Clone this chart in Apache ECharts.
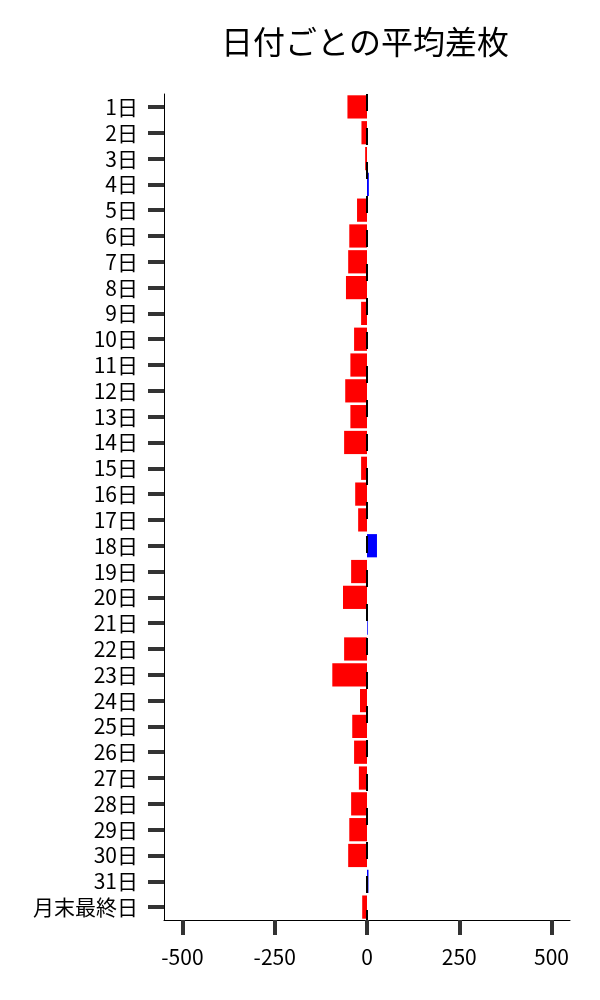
<!DOCTYPE html>
<html lang="ja">
<head>
  <meta charset="UTF-8">
  <title>日付ごとの平均差枚</title>
  <style>
      html, body { margin: 0; padding: 0; background: #fff; }
      #chart { width: 600px; height: 1000px; }
  </style>
</head>
<body>
<div id="chart"></div>
<script src="https://cdn.jsdelivr.net/npm/echarts@6/dist/echarts.min.js"></script>
<script>
  // 日付
  const days = ['1日', '2日', '3日', '4日', '5日', '6日', '7日', '8日', '9日', '10日',
    '11日', '12日', '13日', '14日', '15日', '16日', '17日', '18日', '19日', '20日',
    '21日', '22日', '23日', '24日', '25日', '26日', '27日', '28日', '29日', '30日',
    '31日', '月末最終日'];
  // 平均差枚
  const avgDiff = [-53, -15, -5, 5, -27, -48, -51, -57, -16, -35,
    -45, -59, -45, -62, -16, -32, -24, 27, -43, -65,
    2, -62, -94, -19, -40, -35, -22, -43, -48, -51,
    4, -13];
  // x軸の目盛り
  const xTicks = [-500, -250, 0, 250, 500];

  const font = '"Noto Sans CJK JP", "Noto Sans", sans-serif';

  const chart = echarts.init(document.getElementById('chart'));
  chart.setOption({
    animation: false,
    title: {
      text: '日付ごとの平均差枚',
      left: 216,
      top: 21,
      textStyle: { fontFamily: font, fontSize: 32, fontWeight: 'normal', color: '#000' }
    },
    grid: { left: 164, right: 30, top: 94, bottom: 80 },
    xAxis: {
      type: 'value',
      min: -550,
      max: 550,
      splitLine: { show: false },
      axisLine: { show: true, onZero: false, lineStyle: { color: '#000', width: 1 } },
      axisTick: { show: true, customValues: xTicks, length: 15, lineStyle: { color: '#333', width: 4 } },
      axisLabel: { customValues: xTicks, margin: 27, fontFamily: font, fontSize: 21, color: '#000' }
    },
    yAxis: {
      type: 'category',
      data: days,
      inverse: true,
      axisLine: { show: true, onZero: false, lineStyle: { color: '#000', width: 1 } },
      axisTick: { show: true, alignWithLabel: true, length: 16, lineStyle: { color: '#333', width: 4 } },
      axisLabel: { margin: 26, interval: 0, fontFamily: font, fontSize: 21, color: '#000' }
    },
    series: [
      {
        type: 'bar',
        data: avgDiff,
        barWidth: '90%',
        itemStyle: {
          color: function (p) { return p.value < 0 ? '#ff0000' : '#0000ff'; }
        },
        markLine: {
          silent: true,
          symbol: 'none',
          label: { show: false },
          lineStyle: { color: '#000', width: 2, type: [17, 17], dashOffset: 0 },
          data: [{ xAxis: 0 }]
        }
      }
    ]
  });
</script>
</body>
</html>
